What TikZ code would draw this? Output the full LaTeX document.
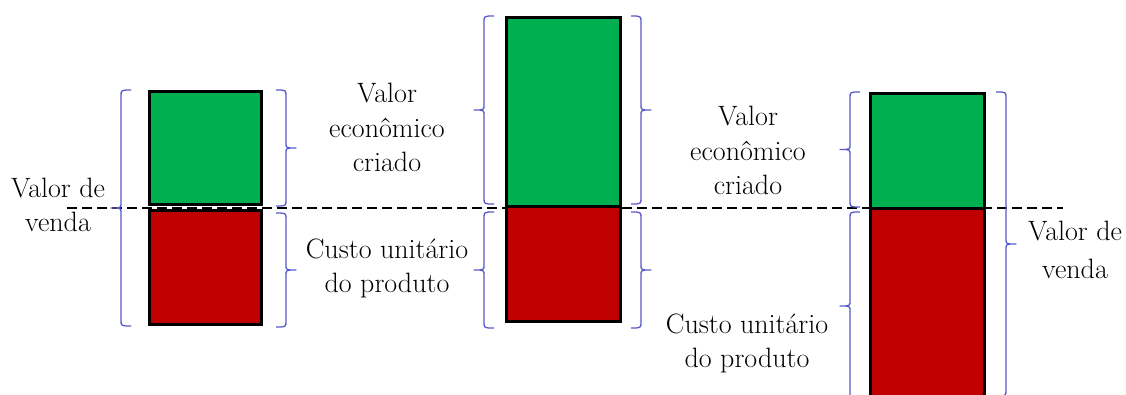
\documentclass[tikz,border=0pt]{standalone}
\usepackage{fontspec}
\newcommand\tnr{\rmfamily}
\definecolor{vgreen}{RGB}{0,176,80}
\definecolor{vred}{RGB}{192,0,0}
\definecolor{bracecol}{RGB}{90,90,200}
% \vbrace{x of hooks}{top}{bottom}{+1: tip to the left, -1: tip to the right}
\newcommand\vbrace[4]{%
  \pgfmathsetmacro\bxv{#1-#4*10}%
  \pgfmathsetmacro\bxt{#1-#4*20}%
  \pgfmathsetmacro\bym{(#2+#3)/2}%
  \draw[brc] (#1,#2) .. controls (\bxv,#2) .. (\bxv,#2+6)
    -- (\bxv,\bym-5) .. controls (\bxv,\bym) .. (\bxt,\bym)
    .. controls (\bxv,\bym) .. (\bxv,\bym+5)
    -- (\bxv,#3-6) .. controls (\bxv,#3) .. (#1,#3);}
\begin{document}
\begin{tikzpicture}[x=1pt,y=-1pt,
  barbox/.style={draw=black,line width=3pt},
  brc/.style={draw=bracecol,line width=1.3pt,line join=round},
  lbl/.style={inner sep=0pt,align=center,font=\tnr\fontsize{28}{34.5}\selectfont}]
\clip (0,0) rectangle (1126,394);
\fill[white] (0,0) rectangle (1126,394);
% dashed reference line
\coordinate (dl) at (67,208);
\coordinate (dr) at (1063,208);
\draw[dash pattern=on 10pt off 5pt, line width=1.3pt] (dl) -- (dr);
% bar 1
\path[barbox,fill=vgreen] (149.5,91.5) rectangle (261.5,204.5);
\path[barbox,fill=vred] (149.5,210.5) rectangle (261.5,324.5);
% bar 2
\path[barbox,fill=vgreen] (506.5,17.5) rectangle (620.5,206.5);
\path[barbox,fill=vred] (506.5,206.5) rectangle (620.5,321.5);
% bar 3
\path[barbox,fill=vgreen] (870.5,93.5) rectangle (984.5,208);
\path[barbox,fill=vred] (870.5,208) rectangle (984.5,420);
% braces bar 1
\vbrace{131}{90}{326}{1}
\vbrace{276}{90}{206}{-1}
\vbrace{276}{213}{327}{-1}
% braces bar 2
\vbrace{494}{16}{204}{1}
\vbrace{494}{212}{328}{1}
\vbrace{631}{16}{204}{-1}
\vbrace{631}{212}{328}{-1}
% braces bar 3
\vbrace{860}{92}{207}{1}
\vbrace{860}{212}{400}{1}
\vbrace{996}{92}{396}{-1}
% labels
\node[lbl] (vv1) at (58,205) {Valor de\\venda};
\node[lbl] (vec1) at (387,127.6) {Valor\\econômico\\criado};
\node[lbl] (cup1) at (387,268.2) {Custo unitário\\do produto};
\node[lbl] (vec2) at (748,150.6) {Valor\\econômico\\criado};
\node[lbl] (cup2) at (747,343.2) {Custo unitário\\do produto};
\node[lbl,font=\tnr\fontsize{28}{38}\selectfont] (vv2) at (1075,249.6) {Valor de\\venda};
\end{tikzpicture}
\end{document}
